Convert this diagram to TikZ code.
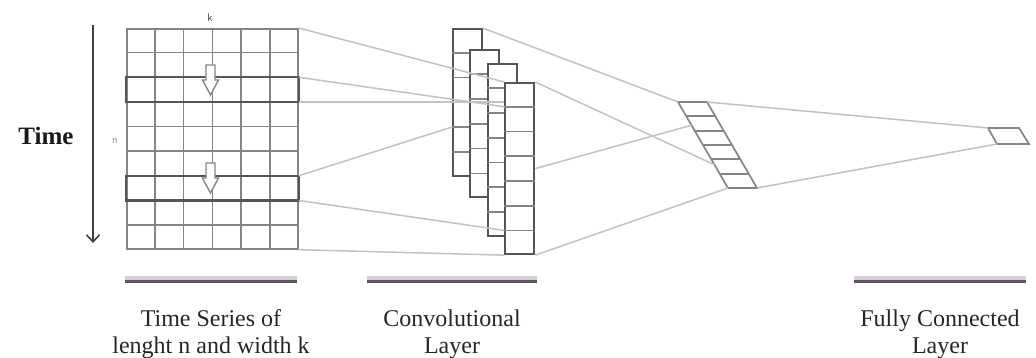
\documentclass[tikz,border=0pt]{standalone}
\usepackage{fontspec}
\setmainfont{Liberation Serif}
\usetikzlibrary{calc,arrows.meta}

\begin{document}
\begin{tikzpicture}[x=1pt,y=-1pt,
 cellline/.style={draw=gridgray,line width=1.7pt},
 winbox/.style={draw=framegray,line width=2.3pt},
 filter/.style={draw=framegray,line width=2pt,fill=white,minimum width=29pt,inner sep=0pt,anchor=north west},
 link/.style={draw=linkgray,line width=1.5pt},
 slide/.style={draw=gridgray,line width=1.4pt,fill=white},
 caption/.style={font=\fontsize{24}{27}\selectfont,align=center,text=black!85},
 tiny/.style={font=\sffamily\fontsize{11}{11}\selectfont},
 slidearrow/.pic={\draw[slide] (-4.5,0) -- (4.5,0) -- (4.5,15) -- (8,15) -- (0,30) -- (-8,15) -- (-4.5,15) -- cycle;}]
\definecolor{gridgray}{HTML}{858585}
\definecolor{framegray}{HTML}{555555}
\definecolor{linkgray}{HTML}{C2C2C2}
\definecolor{lilac}{HTML}{DCCBE0}
\useasboundingbox (0,0) rectangle (1036,358);
% input series: n x k grid with two kernel windows
\node[draw=gridgray,line width=1.7pt,minimum width=171pt,minimum height=220pt,inner sep=0pt,anchor=north west] (ts) at (126,28) {};
\foreach \i in {1,...,5}
 \draw[cellline] ($(ts.north west)!\i/6!(ts.north east)$) -- ($(ts.south west)!\i/6!(ts.south east)$);
\foreach \j in {1,...,8}
 \draw[cellline] ($(ts.north west)!\j/9!(ts.south west)$) coordinate (ts-w\j) -- ($(ts.north east)!\j/9!(ts.south east)$) coordinate (ts-e\j);
\draw[winbox] (ts-w2) rectangle (ts-e3);
\draw[winbox] (ts-w6) rectangle (ts-e7);
\pic at (210.5,65) {slidearrow};
\pic at (210.5,163) {slidearrow};
\node[tiny,text=black!75] (klab) at (210,18) {k};
\node[tiny,text=black!45] (nlab) at (115,141) {n};
% time axis
\node[font=\fontsize{25}{25}\selectfont\bfseries,text=black!90] (time) at (46,136) {Time};
\coordinate (t0) at (93,25);
\coordinate (t1) at (93,243);
\draw[-{Straight Barb[length=7pt,width=13pt]},draw=black!75,line width=1.6pt] (t0) -- (t1);
% stacked convolution filters
\foreach \k/\x/\y/\n/\m in {1/451.7/28/6/5,2/469.3/49.5/6/5,3/486.7/63.5/7/6,4/504.3/82/7/6}{
 \node[filter,minimum height=\n*24.45pt] (f\k) at (\x,\y) {};
 \foreach \j in {1,...,\m}
  \draw[cellline] ($(f\k.north west)!\j/\n!(f\k.south west)$) -- ($(f\k.north east)!\j/\n!(f\k.south east)$);
}
% slanted feature layer and output cell
\coordinate (pl-nw) at (678,102);
\coordinate (pl-ne) at (707,102);
\coordinate (pl-sw) at (728,188);
\coordinate (pl-se) at (757,188);
\draw[cellline] (pl-nw) -- (pl-ne) -- (pl-se) -- (pl-sw) -- cycle;
\foreach \j in {1,...,5}
 \draw[cellline] ($(pl-nw)!\j/6!(pl-sw)$) -- ($(pl-ne)!\j/6!(pl-se)$);
\coordinate (fc-nw) at (988,128);
\coordinate (fc-ne) at (1019,128);
\coordinate (fc-sw) at (997,144);
\coordinate (fc-se) at (1029,144);
\draw[cellline] (fc-nw) -- (fc-ne) -- (fc-se) -- (fc-sw) -- cycle;
% connections
\draw[link] (ts.north east) -- (f4.north west);
\draw[link] (ts-e2) -- ($(f4.north west)!1/7!(f4.south west)$);
\draw[link] (ts-e3) -- (f4.west |- ts-e3);
\draw[link] (ts-e6) -- ($(f1.north west)!4/6!(f1.south west)$);
\draw[link] (ts-e7) -- ($(f4.north west)!6/7!(f4.south west)$);
\draw[link] (ts.south east) -- (f4.south west);
\draw[link] (f1.north east) -- (pl-nw);
\draw[link] (f4.north east) -- ($(pl-nw)!.73!(pl-sw)$);
\draw[link] (f4.east) -- ($(pl-nw)!.27!(pl-sw)$);
\draw[link] (f4.south east) -- (pl-sw);
\draw[link] (pl-ne) -- (fc-nw);
\draw[link] (pl-se) -- (fc-sw);
% captions
\foreach \a/\b in {125/297,367/537,854/1026}{
 \draw[draw=lilac,line width=4pt] (\a,278) -- (\b,278);
 \draw[draw=black!65,line width=2.2pt] (\a,281.5) -- (\b,281.5);
}
\node[caption] (cap-ts) at (211,334) {Time Series of\\lenght n and width k};
\node[caption] (cap-conv) at (452,334) {Convolutional\\Layer};
\node[caption] (cap-fc) at (940,334) {Fully Connected\\Layer};
\end{tikzpicture}
\end{document}
